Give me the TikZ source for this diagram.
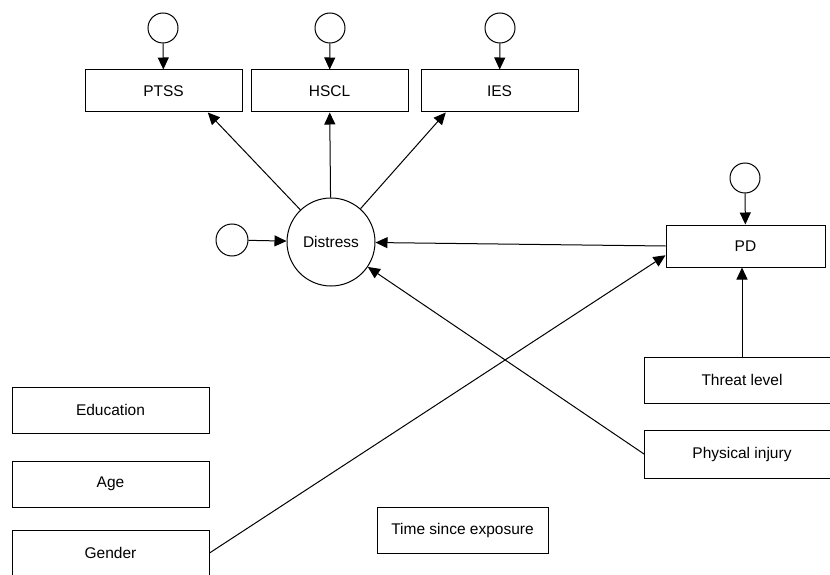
\documentclass[tikz,border=0pt]{standalone}
\usepackage{fontspec}
\setmainfont{Liberation Sans}
\usetikzlibrary{arrows.meta,calc}

\tikzset{
  var/.style={rectangle, draw, line width=1pt, inner sep=0pt, font=\fontsize{15.5}{18}\selectfont},
  err/.style={circle, draw, line width=1pt, minimum size=30pt, inner sep=0pt},
  lat/.style={circle, draw, line width=1pt, minimum size=88pt, inner sep=0pt, font=\fontsize{15.5}{18}\selectfont},
}

\begin{document}
\begin{tikzpicture}[x=1pt, y=-1pt, >={Triangle[length=12pt,width=11pt]}, line width=1pt]
\useasboundingbox (0,0) rectangle (830,575);

% Indicators
\node[var, minimum width=157pt, minimum height=42pt] (ptss) at (163.5,91) {PTSS};
\node[var, minimum width=157pt, minimum height=42pt] (hscl) at (329.5,91) {HSCL};
\node[var, minimum width=157pt, minimum height=42pt] (ies) at (499.5,91) {IES};

% Error terms of the indicators
\node[err] (eptss) at (163,28) {};
\node[err] (ehscl) at (330,28) {};
\node[err] (eies) at (500,28) {};

% Latent variable
\node[lat] (distress) at (331,242) {Distress};
\node[err, minimum size=32pt] (edistress) at (232,240) {};

% Mediator
\node[var, minimum width=159pt, minimum height=42pt] (pd) at (745.5,246) {PD};
\node[err] (epd) at (745,178) {};

% Predictors
\node[var, minimum width=195pt, minimum height=46pt] (threat) at (742,380) {Threat level};
\node[var, minimum width=195pt, minimum height=48pt] (injury) at (742,454) {Physical injury};
\node[var, minimum width=197pt, minimum height=46pt] (edu) at (110.5,410) {Education};
\node[var, minimum width=197pt, minimum height=46pt] (age) at (110.5,484) {Age};
\node[var, minimum width=197pt, minimum height=46pt] (gender) at (110.5,553) {Gender};
\node[var, minimum width=171pt, minimum height=46pt] (time) at (462.5,530) {Time since exposure};

% Error arrows
\draw[->] (eptss) -- (ptss);
\draw[->] (ehscl) -- (hscl);
\draw[->] (eies) -- (ies);
\draw[->] (epd) -- (pd);
\draw[->] (edistress) -- (distress);

% Loadings
\coordinate (ptssin) at ($(ptss.south west)!0.78!(ptss.south east)$);
\coordinate (iesin) at ($(ies.south west)!0.16!(ies.south east)$);
\draw[->] (distress) -- (ptssin);
\draw[->] (distress) -- (hscl);
\draw[->] (distress) -- (iesin);

% Paths
\draw[->] (pd.west) -- (distress);
\draw[->] (threat.north) -- (threat.north |- pd.south);
\draw[->] (injury.west) -- (distress);
\coordinate (pdin) at ($(pd.west)!0.43!(pd.south west)$);
\draw[->] (gender.east) -- (pdin);

\end{tikzpicture}
\end{document}
